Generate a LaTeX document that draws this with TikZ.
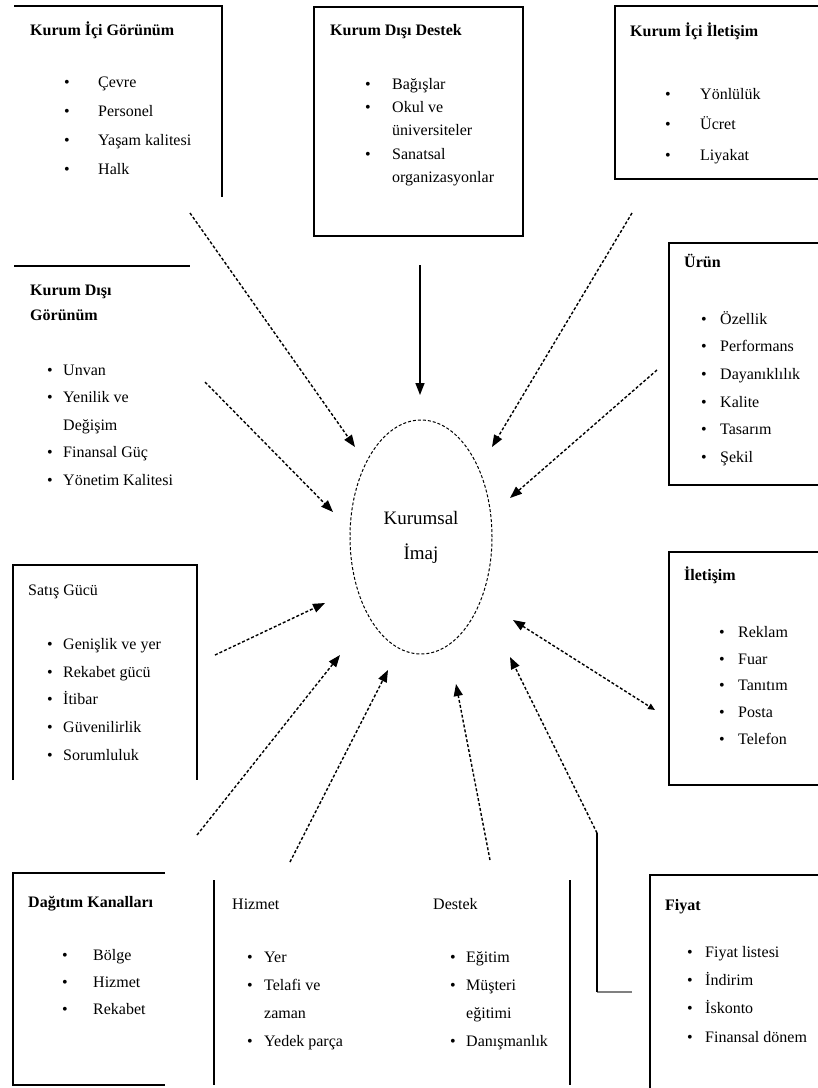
\documentclass[tikz,border=0pt]{standalone}
\usepackage{fontspec}
\setmainfont{Liberation Serif}
\usetikzlibrary{shapes.geometric,arrows.meta}
\newcommand\blist[6]{%
  \foreach \bq/\tx [count=\i from 0] in {#6} {%
    \node[itm] (#1-\i) at (#3, #4+\i*#5) {\tx};
    \ifnum\bq=1 \node[bul] (#1-b\i) at (#2, #4+\i*#5) {\textbullet};\fi
  }}
\begin{document}
\begin{tikzpicture}[x=1pt,y=-1pt,
  itm/.style={anchor=mid west, inner sep=0pt, font=\fontsize{16}{19}\selectfont},
  bul/.style={anchor=mid, inner sep=0pt, font=\fontsize{16}{19}\selectfont},
  ttl/.style={anchor=mid west, inner sep=0pt, font=\fontsize{16}{19}\selectfont\bfseries},
  ttln/.style={anchor=mid west, inner sep=0pt, font=\fontsize{16}{19}\selectfont},
  frame/.style={line width=1.8pt},
  arr/.style={densely dashed, line width=1.4pt, -{Triangle[length=12pt,width=9pt]}},
  sarr/.style={line width=1.4pt, -{Triangle[length=12pt,width=9pt]}}]
\useasboundingbox (0,0) rectangle (818,1088);

% ---------- frames ----------
\draw[frame] (14,6) -- (222,6) -- (222,197);
\draw[frame] (314,7) rectangle (523,236);
\draw[frame] (822,6) -- (615,6) -- (615,179) -- (822,179);
\draw[frame] (14,266) -- (190,266);
\draw[frame] (822,243) -- (669,243) -- (669,485) -- (822,485);
\draw[frame] (13,780) -- (13,565) -- (197,565) -- (197,780);
\draw[frame] (822,552) -- (669,552) -- (669,785) -- (822,785);
\draw[frame] (165,873) -- (13,873) -- (13,1085) -- (165,1085);
\draw[frame] (214,880) -- (214,1085);
\draw[frame] (570,880) -- (570,1085);
\draw[frame] (822,875) -- (650,875) -- (650,1088);

% ---------- texts ----------
\node[ttl] (t1) at (30,33) {Kurum İçi Görünüm};
\blist{a}{67}{98}{85}{29}{1/Çevre,1/Personel,1/Yaşam kalitesi,1/Halk}

\node[ttl] (t2) at (330,33) {Kurum Dışı Destek};
\blist{b}{368}{392}{87}{23.3}{1/Bağışlar,1/Okul ve,0/üniversiteler,1/Sanatsal,0/organizasyonlar}

\node[ttl] (t3) at (630,34) {Kurum İçi İletişim};
\blist{c}{668}{700}{97}{30.5}{1/Yönlülük,1/Ücret,1/Liyakat}

\node[ttl] (t4a) at (30,293) {Kurum Dışı};
\node[ttl] (t4b) at (30,318) {Görünüm};
\blist{d}{50}{63}{373}{27.5}{1/Unvan,1/Yenilik ve,0/Değişim,1/Finansal Güç,1/Yönetim Kalitesi}

\node[ttl] (t5) at (684,265) {Ürün};
\blist{e}{704}{720}{322}{27.6}{1/Özellik,1/Performans,1/Dayanıklılık,1/Kalite,1/Tasarım,1/Şekil}

\node[ttln] (t6) at (28,593) {Satış Gücü};
\blist{f}{50}{63}{647}{27.8}{1/Genişlik ve yer,1/Rekabet gücü,1/İtibar,1/Güvenilirlik,1/Sorumluluk}

\node[ttl] (t7) at (684,578) {İletişim};
\blist{g}{722}{738}{635}{26.8}{1/Reklam,1/Fuar,1/Tanıtım,1/Posta,1/Telefon}

\node[ttl] (t8) at (28,905) {Dağıtım Kanalları};
\blist{h}{65}{93}{958}{27}{1/Bölge,1/Hizmet,1/Rekabet}

\node[ttln] (t9) at (232,907) {Hizmet};
\blist{i}{250}{264}{960}{28}{1/Yer,1/Telafi ve,0/zaman,1/Yedek parça}

\node[ttln] (t10) at (433,907) {Destek};
\blist{j}{453}{466}{960}{28}{1/Eğitim,1/Müşteri,0/eğitimi,1/Danışmanlık}

\node[ttl] (t11) at (665,908) {Fiyat};
\blist{k}{690}{705}{955}{28.3}{1/Fiyat listesi,1/İndirim,1/İskonto,1/Finansal dönem}

% ---------- centre ----------
\node[draw, ellipse, densely dashed, line width=1pt, minimum width=142pt, minimum height=234pt,
      align=center, font=\fontsize{19}{35}\selectfont] (img) at (421,537) {Kurumsal\\İmaj};

% ---------- connectors ----------
\coordinate (s1) at (190,213);  \coordinate (e1) at (355,447);
\coordinate (s2) at (420,265);  \coordinate (e2) at (420,395);
\coordinate (s3) at (632,213);  \coordinate (e3) at (492,447);
\coordinate (s4) at (205,382);  \coordinate (e4) at (333,512);
\coordinate (s5) at (657,370);  \coordinate (e5) at (510,498);
\coordinate (s6) at (215,655);  \coordinate (e6) at (325,603);
\coordinate (s7) at (655,710);  \coordinate (e7) at (513,620);
\coordinate (s8) at (197,835);  \coordinate (e8) at (340,655);
\coordinate (s9) at (290,862);  \coordinate (e9) at (388,670);
\coordinate (s10) at (490,860); \coordinate (e10) at (456,684);
\coordinate (s11) at (632,992); \coordinate (k11) at (597,992); \coordinate (m11) at (597,833);
\coordinate (e11) at (510,657);

\draw[arr] (s1) -- (e1);
\draw[sarr] (s2) -- (e2);
\draw[arr] (s3) -- (e3);
\draw[arr] (s4) -- (e4);
\draw[arr] (s5) -- (e5);
\draw[arr] (s6) -- (e6);
\draw[densely dashed, line width=1.4pt, {Triangle[length=12pt,width=9pt]}-{Triangle[length=7pt,width=6pt]}] (e7) -- (s7);
\draw[arr] (s8) -- (e8);
\draw[arr] (s9) -- (e9);
\draw[arr] (s10) -- (e10);
\draw[line width=1.2pt, gray] (s11) -- (k11);
\draw[line width=1.2pt] (k11) -- (m11);
\draw[arr] (m11) -- (e11);
\end{tikzpicture}
\end{document}
